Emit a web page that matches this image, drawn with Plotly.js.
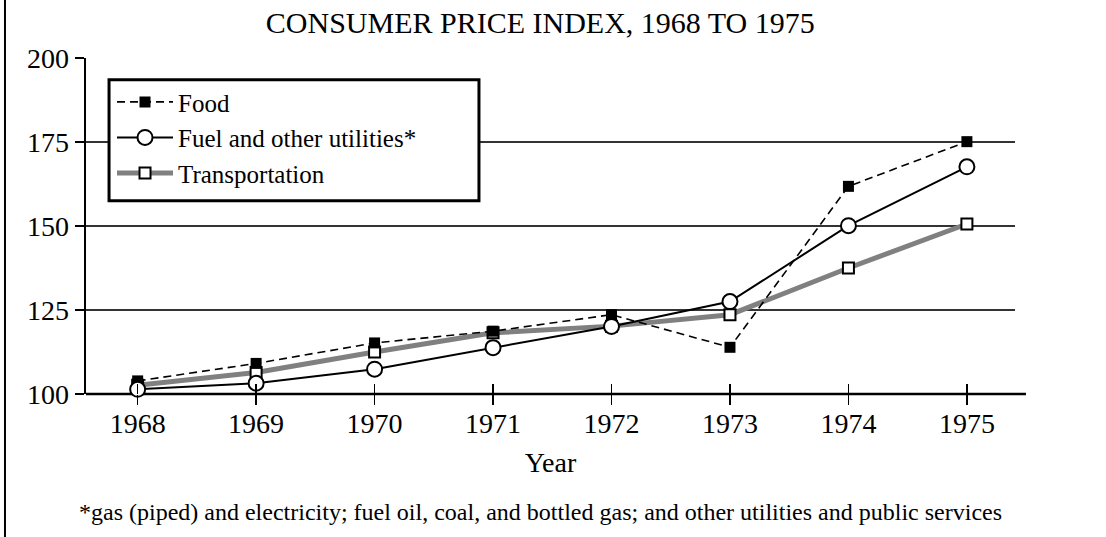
<!DOCTYPE html>
<html>
<head>
<meta charset="utf-8">
<script src="https://cdn.plot.ly/plotly-3.0.1.min.js"></script>
<style>
  html, body { margin: 0; padding: 0; background: #fff; }
  #chart { width: 1106px; height: 537px; }
</style>
</head>
<body>
<div id="chart"></div>
<script>
const years = [1968, 1969, 1970, 1971, 1972, 1973, 1974, 1975];
const food = [103.9, 109.1, 115.2, 118.7, 123.6, 113.9, 161.8, 175.1];
const fuel = [101.4, 103.2, 107.4, 113.8, 120.1, 127.5, 150.1, 167.6];
const transportation = [102.6, 106.4, 112.5, 118.2, 120.2, 123.6, 137.5, 150.6];
const yTicks = [100, 125, 150, 175, 200];
const titleText = 'CONSUMER PRICE INDEX, 1968 TO 1975';
const xTitle = 'Year';
const footnote = '*gas (piped) and electricity; fuel oil, coal, and bottled gas; and other utilities and public services';

const serif = "'Liberation Serif', 'Times New Roman', serif";

const traces = [
  {
    x: years, y: transportation, name: 'Transportation', type: 'scatter', mode: 'lines+markers',
    line: {color: '#808080', width: 5},
    marker: {symbol: 'square', size: 11, color: '#ffffff', line: {color: '#000', width: 2}},
    legendrank: 3, cliponaxis: false
  },
  {
    x: years, y: food, name: 'Food', type: 'scatter', mode: 'lines+markers',
    line: {color: '#000', width: 1.6, dash: '8px,5px'},
    marker: {symbol: 'square', size: 11, color: '#000', line: {color: '#000', width: 0}},
    legendrank: 1, cliponaxis: false
  },
  {
    x: years, y: fuel, name: 'Fuel and other utilities*', type: 'scatter', mode: 'lines+markers',
    line: {color: '#000', width: 2},
    marker: {symbol: 'circle', size: 15, color: '#ffffff', line: {color: '#000', width: 2}},
    legendrank: 2, cliponaxis: false
  },
  {
    x: years, y: fuel, xaxis: 'x2', yaxis: 'y', showlegend: false, hoverinfo: 'skip',
    type: 'scatter', mode: 'markers', marker: {opacity: 0}
  }
];

const xr = [1967.564, 1975.406];
const layout = {
  width: 1106, height: 537,
  margin: {l: 86, r: 91, t: 58, b: 143},
  paper_bgcolor: '#fff', plot_bgcolor: '#fff',
  font: {family: serif, color: '#000', size: 28},
  title: {text: titleText, font: {family: serif, size: 30, color: '#000'},
          x: 0.489, xref: 'paper', xanchor: 'center', y: 0.958, yref: 'container', yanchor: 'middle'},
  showlegend: true,
  legend: {
    x: 0.028, y: 0.937, xanchor: 'left', yanchor: 'top',
    bgcolor: 'rgba(0,0,0,0)', borderwidth: 0,
    font: {family: serif, size: 25, color: '#000'},
    traceorder: 'normal', itemwidth: 56
  },
  xaxis: {
    range: xr, tickvals: years, ticktext: years.map(String),
    showgrid: false, zeroline: false, showline: false,
    ticks: 'outside', ticklen: 10, tickwidth: 1.5, tickcolor: '#000',
    ticklabelstandoff: -6,
    tickfont: {family: serif, size: 28, color: '#000'},
    title: {text: xTitle, font: {family: serif, size: 28, color: '#000'}, standoff: 14},
    automargin: false, fixedrange: true
  },
  xaxis2: {
    overlaying: 'x', range: xr, tickvals: years, showticklabels: false,
    showgrid: false, zeroline: false, showline: false,
    ticks: 'inside', ticklen: 10, tickwidth: 1.5, tickcolor: '#000',
    side: 'bottom', anchor: 'y', fixedrange: true
  },
  yaxis: {
    range: [100, 200], tickvals: yTicks, ticktext: yTicks.map(String),
    showgrid: true, gridcolor: '#333', gridwidth: 1.5,
    zeroline: false, showline: true, linecolor: '#000', linewidth: 2.5,
    ticks: 'outside', ticklen: 9, tickwidth: 1.5, tickcolor: '#000',
    tickfont: {family: serif, size: 28, color: '#000'},
    automargin: false, fixedrange: true
  },
  shapes: [
    {type: 'line', xref: 'paper', yref: 'paper', x0: 0, x1: 1.0118, y0: 0, y1: 0,
     line: {color: '#000', width: 2.5}, layer: 'between'},
    {type: 'line', xref: 'paper', yref: 'paper', x0: -0.0872, x1: -0.0872, y0: -0.43, y1: 1.18,
     line: {color: '#000', width: 2}},
    {type: 'rect', xref: 'paper', yref: 'paper', x0: 0.0248, x1: 0.423, y0: 0.575, y1: 0.935,
     fillcolor: '#fff', line: {color: '#000', width: 3}, layer: 'above'}
  ],
  annotations: [
    {text: footnote, xref: 'paper', yref: 'paper', x: 0.489, y: -0.35, xanchor: 'center', yanchor: 'middle',
     showarrow: false, font: {family: serif, size: 24, color: '#000'}}
  ]
};

Plotly.newPlot('chart', traces, layout, {displayModeBar: false, staticPlot: true});
</script>
</body>
</html>
